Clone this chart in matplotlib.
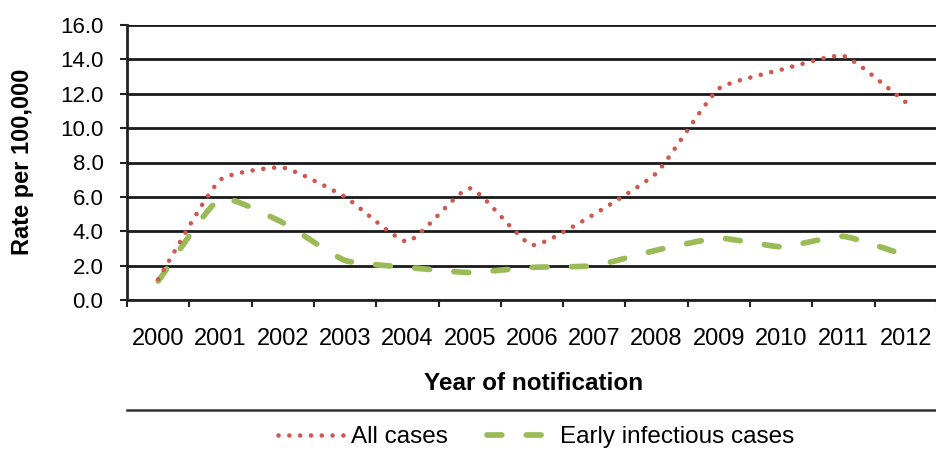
import matplotlib

matplotlib.use('Agg')
import matplotlib.pyplot as plt
from matplotlib.path import Path
from matplotlib.patches import PathPatch
from matplotlib.lines import Line2D
import numpy as np

plt.rcParams['font.family'] = ['Liberation Sans', 'DejaVu Sans']

years = ['2000', '2001', '2002', '2003', '2004', '2005', '2006',
         '2007', '2008', '2009', '2010', '2011', '2012']
all_cases = [1.2, 7.0, 7.7, 6.0, 3.4, 6.5, 3.2, 5.0, 7.4, 12.3, 13.4, 14.2, 11.5]
early_infectious = [1.1, 5.9, 4.5, 2.3, 1.9, 1.6, 1.9, 2.0, 2.9, 3.6, 3.1, 3.7, 2.6]

RED = '#D0574F'
GREEN = '#9BBB59'


def smooth_path(ax, xs, ys, tension=1 / 6):
    # spreadsheet-style smoothed line: cubic bezier through each point,
    # handle length scaled by the neighbouring chord lengths on screen
    pts = np.column_stack([xs, ys]).astype(float)
    scr = ax.transData.transform(pts)
    n = len(pts)

    def dist(i, j):
        return np.hypot(*(scr[j] - scr[i]))

    verts = [pts[0]]
    codes = [Path.MOVETO]
    for i in range(n - 1):
        i0, i3 = max(i - 1, 0), min(i + 2, n - 1)
        p0, p1, p2, p3 = pts[i0], pts[i], pts[i + 1], pts[i3]
        d01, d12, d23 = dist(i0, i), dist(i, i + 1), dist(i + 1, i3)
        f1 = tension * d12 / (d01 + d12)
        f2 = tension * d12 / (d12 + d23)
        c1 = p1 + (p2 - p0) * f1
        c2 = p2 - (p3 - p1) * f2
        verts += [c1, c2, p2]
        codes += [Path.CURVE4] * 3
    return Path(verts, codes)


fig = plt.figure(figsize=(9.37, 4.5), dpi=100)
ax = fig.add_axes([127 / 937, 1 - 300 / 450, 810 / 937, 275 / 450])

x = np.arange(len(years))
ax.set_xlim(-0.5, len(years) - 0.5)
ax.set_ylim(0, 16)

red_dots = (0, (0.01, 2.35))
green_dash = (0, (2.6, 4.3))

ax.add_patch(PathPatch(smooth_path(ax, x, early_infectious), edgecolor=GREEN,
                       facecolor='none', linewidth=4.1, linestyle=green_dash,
                       capstyle='round', joinstyle='round'))
ax.add_patch(PathPatch(smooth_path(ax, x, all_cases), edgecolor=RED,
                       facecolor='none', linewidth=3.3, linestyle=red_dots,
                       capstyle='round', joinstyle='round'))

# y axis
yt = np.arange(0, 16.1, 2)
ax.set_yticks(yt)
ax.set_yticklabels([f'{v:.1f}' for v in yt])
ax.grid(axis='y', color='#1a1a1a', linewidth=2.0)
ax.set_axisbelow(True)
ax.tick_params(axis='y', direction='out', length=5, width=1.5, color='#222222',
               labelsize=16, pad=12)

# x axis: boundary ticks, labels in the middle of each category
ax.set_xticks(np.arange(-0.5, len(years), 1.0))
ax.set_xticklabels([])
ax.set_xticks(x, minor=True)
ax.set_xticklabels(years, minor=True)
ax.tick_params(axis='x', which='major', direction='out', length=5, width=1.5,
               color='#222222')
ax.tick_params(axis='x', which='minor', length=0, labelsize=17, pad=20)

for side in ['top', 'right']:
    ax.spines[side].set_visible(False)
for side in ['left', 'bottom']:
    ax.spines[side].set_linewidth(2.0)
    ax.spines[side].set_color('#222222')

fig.text(23 / 937, 1 - 162 / 450, 'Rate per 100,000', rotation=90,
         ha='center', va='center', fontsize=17, fontweight='bold')
fig.text(534 / 937, 1 - 383 / 450, 'Year of notification',
         ha='center', va='center', fontsize=17.5, fontweight='bold')

# separator above the legend
fig.add_artist(Line2D([127 / 937, 1.0], [1 - 410 / 450, 1 - 410 / 450],
                      color='#333333', linewidth=1.8))

handles = [
    Line2D([], [], color=RED, linewidth=3.3, linestyle=red_dots,
           dash_capstyle='round'),
    Line2D([], [], color=GREEN, linewidth=4.1, linestyle=green_dash,
           dash_capstyle='round'),
]
fig.legend(handles, ['All cases', 'Early infectious cases'], ncol=2,
           loc='center', bbox_to_anchor=(536 / 937, 1 - 437 / 450),
           frameon=False, fontsize=17.5, handlelength=2.7, handletextpad=0.3,
           columnspacing=1.6, borderpad=0, borderaxespad=0)

fig.savefig('out.png', dpi=100)
plt.close(fig)
